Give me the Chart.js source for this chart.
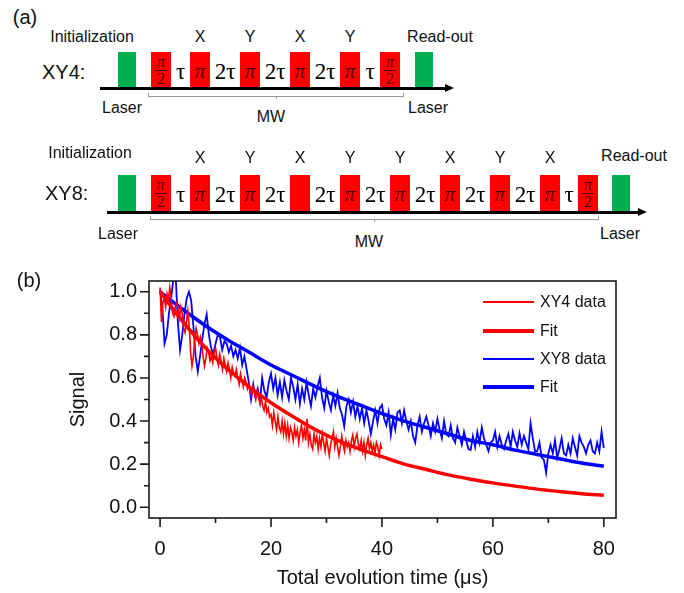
<!DOCTYPE html>
<html>
<head>
<meta charset="utf-8">
<script src="https://cdn.jsdelivr.net/npm/chart.js@4.4.1/dist/chart.umd.min.js"></script>
<style>
  body { margin: 0; width: 684px; height: 593px; position: relative; overflow: hidden; background: #fff;
         font-family: "Liberation Sans", Arial, sans-serif; color: #111; }
  .lbl { position: absolute; transform: translate(-50%, -50%); line-height: 1; white-space: nowrap; font-size: 16px; }
  .blk { position: absolute; }
  .pi { font-family: "Liberation Serif", "DejaVu Serif", serif; font-style: italic; color: #500000; }
  .gap { font-family: "Liberation Serif", "DejaVu Serif", serif; font-size: 23px; color: #000; }
  #chart { position: absolute; left: 0; top: 255px; }
</style>
</head>
<body>
<canvas id="chart" width="684" height="338"></canvas>
<script>
// ---- data for panel (b) ----
const xy4Step = 0.25;   // µs between XY4 samples (0..40)
const xy4Signal = [
  1.02, 0.86, 0.95, 0.97, 0.93, 0.99, 0.96, 1.02,
  0.97, 0.90, 0.885, 0.93, 0.95, 0.92, 0.88, 0.93,
  0.90, 0.83, 0.81, 0.86, 0.91, 0.84, 0.72, 0.655,
  0.70, 0.78, 0.83, 0.80, 0.76, 0.79, 0.76, 0.70,
  0.655, 0.69, 0.74, 0.72, 0.68, 0.70, 0.67, 0.72,
  0.74, 0.69, 0.66, 0.71, 0.68, 0.64, 0.69, 0.66,
  0.63, 0.67, 0.64, 0.60, 0.65, 0.62, 0.61, 0.64,
  0.60, 0.57, 0.62, 0.59, 0.56, 0.60, 0.58, 0.55,
  0.57, 0.54, 0.52, 0.56, 0.53, 0.50, 0.54, 0.51,
  0.48, 0.51, 0.47, 0.45, 0.49, 0.44, 0.46, 0.42,
  0.43, 0.38, 0.44, 0.40, 0.36, 0.42, 0.37, 0.35,
  0.40, 0.34, 0.39, 0.33, 0.38, 0.32, 0.37, 0.35,
  0.31, 0.37, 0.33, 0.36, 0.30, 0.35, 0.38, 0.32,
  0.36, 0.31, 0.41, 0.30, 0.34, 0.29, 0.27, 0.34,
  0.30, 0.33, 0.27, 0.32, 0.28, 0.34, 0.30, 0.26,
  0.32, 0.28, 0.24, 0.29, 0.32, 0.35, 0.28, 0.32,
  0.28, 0.24, 0.28, 0.33, 0.29, 0.26, 0.31, 0.28,
  0.30, 0.26, 0.31, 0.335, 0.28, 0.32, 0.34, 0.29,
  0.27, 0.31, 0.26, 0.30, 0.24, 0.29, 0.32, 0.27,
  0.30, 0.26, 0.29, 0.25, 0.30, 0.28, 0.24, 0.29,
  0.27
];

const xy8Step = 0.4;    // µs between XY8 samples (0..80)
const xy8Signal = [
  1.01, 0.93, 0.76, 0.80, 0.90, 0.97, 1.06, 1.08, 0.86, 0.73,
  0.80, 0.90, 0.97, 1.00, 0.96, 0.84, 0.70, 0.63, 0.70, 0.78,
  0.85, 0.895, 0.80, 0.74, 0.71, 0.76, 0.80, 0.79, 0.73, 0.77,
  0.76, 0.72, 0.75, 0.70, 0.73, 0.69, 0.74, 0.66, 0.70, 0.64,
  0.58, 0.50, 0.57, 0.51, 0.55, 0.49, 0.60, 0.54, 0.51, 0.58,
  0.62, 0.55, 0.60, 0.52, 0.58, 0.51, 0.59, 0.54, 0.50, 0.60,
  0.56, 0.50, 0.57, 0.48, 0.55, 0.50, 0.58, 0.52, 0.47, 0.55,
  0.51, 0.56, 0.60, 0.51, 0.46, 0.54, 0.49, 0.45, 0.52, 0.47,
  0.53, 0.46, 0.43, 0.375, 0.47, 0.50, 0.44, 0.49, 0.42, 0.47,
  0.41, 0.46, 0.39, 0.45, 0.40, 0.34, 0.40, 0.45, 0.39, 0.46,
  0.475, 0.41, 0.38, 0.44, 0.336, 0.41, 0.36, 0.44, 0.45, 0.39,
  0.45, 0.40, 0.36, 0.40, 0.33, 0.30, 0.38, 0.42, 0.35, 0.39,
  0.42, 0.38, 0.33, 0.39, 0.35, 0.41, 0.36, 0.32, 0.40, 0.34,
  0.33, 0.38, 0.32, 0.30, 0.37, 0.33, 0.29, 0.35, 0.31, 0.27,
  0.266, 0.33, 0.28, 0.35, 0.30, 0.37, 0.32, 0.29, 0.26, 0.30,
  0.31, 0.35, 0.28, 0.33, 0.29, 0.27, 0.31, 0.34, 0.28, 0.35,
  0.31, 0.28, 0.344, 0.29, 0.33, 0.30, 0.27, 0.39, 0.32, 0.26,
  0.26, 0.30, 0.23, 0.22, 0.16, 0.25, 0.29, 0.25, 0.31, 0.23,
  0.27, 0.32, 0.25, 0.24, 0.29, 0.25, 0.32, 0.28, 0.24, 0.33,
  0.30, 0.28, 0.25, 0.29, 0.31, 0.26, 0.25, 0.30, 0.26, 0.35,
  0.275
];

// fitted curves, every 4 µs
const fitTime = [0, 4, 8, 12, 16, 20, 24, 28, 32, 36, 40, 44, 48, 52, 56, 60, 64, 68, 72, 76, 80];
const xy4Fit = [1.0, 0.865, 0.745, 0.645, 0.56, 0.485, 0.42, 0.36, 0.31, 0.27, 0.235,
                0.20, 0.175, 0.15, 0.13, 0.113, 0.098, 0.084, 0.073, 0.063, 0.055];
const xy8Fit = [1.0, 0.92, 0.846, 0.78, 0.72, 0.66, 0.61, 0.56, 0.515, 0.475, 0.435,
                0.40, 0.37, 0.34, 0.31, 0.29, 0.265, 0.245, 0.225, 0.205, 0.19];

const xTickValues = [0, 20, 40, 60, 80];
const xMinorTicks = [10, 30, 50, 70];
const yTickValues = [0, 0.2, 0.4, 0.6, 0.8, 1.0];
const yMinorTicks = [0.1, 0.3, 0.5, 0.7, 0.9];

// ---- panel (a): pulse sequences ----
const xy4Axes = ['X', 'Y', 'X', 'Y'];
const xy8Axes = ['X', 'Y', 'X', 'Y', 'Y', 'X', 'Y', 'X'];

function label(text, x, y, css, cls) {
  const el = document.createElement('div');
  el.className = 'lbl' + (cls ? ' ' + cls : '');
  el.textContent = text;
  el.style.left = x + 'px';
  el.style.top = y + 'px';
  if (css) Object.assign(el.style, css);
  document.body.appendChild(el);
  return el;
}

function block(x, y, w, h, css) {
  const el = document.createElement('div');
  el.className = 'blk';
  Object.assign(el.style, { left: x + 'px', top: y + 'px', width: w + 'px', height: h + 'px' }, css);
  document.body.appendChild(el);
  return el;
}

function halfPulse(x, top, h) {
  const b = block(x, top, 20, h, { background: '#ff0000' });
  const cx = x + 10, cy = top + h / 2;
  label('π', cx, cy - 8, { fontSize: '16px' }, 'pi');
  block(x + 4, cy, 12, 1, { background: '#500000' });
  label('2', cx, cy + 9, { fontSize: '16px', fontStyle: 'normal' }, 'pi');
  return b;
}

function drawRow(r) {
  label(r.name, r.nameX, r.nameY, { fontSize: '20px', transform: 'translate(0,-50%)' });
  label('Initialization', r.initX, r.initY);
  label('Read-out', r.readX, r.readY);
  label('Laser', r.laserL, r.laserY);
  label('Laser', r.laserR, r.laserY);
  label('MW', r.mwX, r.mwY);

  r.greens.forEach(x => block(x, r.top, 18, r.h, { background: '#00b050' }));
  r.halves.forEach(x => halfPulse(x, r.top, r.h));
  r.pis.forEach((x, i) => {
    block(x, r.top, 20, r.h, { background: '#ff0000' });
    if (i !== r.blank) label('π', x + 10, r.top + r.h / 2 + 1, { fontSize: '21px' }, 'pi');
    label(r.axes[i], x + 10, r.axisLabelY);
  });
  r.gaps.forEach(g => label(g[1], g[0], r.top + r.h / 2 + 1, null, 'gap'));

  // time axis with arrow
  block(r.axisFrom, r.axisY - 1, r.axisTo - r.axisFrom, 2.5, { background: '#000' });
  block(r.axisTo, r.axisY - 4.5, 0, 0, {
    borderTop: '4.5px solid transparent', borderBottom: '4.5px solid transparent', borderLeft: '9px solid #000'
  });
  // MW bracket
  const gray = { background: '#9a9a9a' };
  block(r.brFrom, r.brY, r.brTo - r.brFrom, 1, gray);
  block(r.brFrom, r.brY - 3, 1, 3, gray);
  block(r.brTo - 1, r.brY - 3, 1, 3, gray);
  block(r.brMid, r.brY, 1, 3, gray);
}

label('(a)', 25, 17, { fontSize: '20px' });
label('(b)', 29, 280, { fontSize: '20px' });

drawRow({
  name: 'XY4:', nameX: 42, nameY: 72, top: 52, h: 35, axisY: 88, axisFrom: 100, axisTo: 445,
  initX: 92, initY: 37, readX: 440, readY: 37, laserL: 122, laserR: 428, laserY: 108, mwX: 271, mwY: 117,
  greens: [118, 415], halves: [151, 380], pis: [190, 240, 290, 340], blank: -1,
  axes: xy4Axes, axisLabelY: 37,
  gaps: [[180.5, 'τ'], [225, '2τ'], [275, '2τ'], [325, '2τ'], [370, 'τ']],
  brY: 96, brFrom: 148, brTo: 404, brMid: 276
});

drawRow({
  name: 'XY8:', nameX: 45, nameY: 193, top: 175, h: 36, axisY: 212, axisFrom: 107, axisTo: 638,
  initX: 90, initY: 153, readX: 634, readY: 156, laserL: 118, laserR: 620, laserY: 234, mwX: 369, mwY: 242,
  greens: [118, 612], halves: [151, 578], pis: [190, 240, 290, 340, 390, 440, 490, 540], blank: 2,
  axes: xy8Axes, axisLabelY: 158,
  gaps: [[180.5, 'τ'], [225, '2τ'], [275, '2τ'], [325, '2τ'], [375, '2τ'], [425, '2τ'],
         [475, '2τ'], [525, '2τ'], [569, 'τ']],
  brY: 219, brFrom: 150, brTo: 599, brMid: 374
});

// ---- panel (b): chart ----
Chart.defaults.font.family = '"Liberation Sans", Arial, sans-serif';
Chart.defaults.color = '#111';

const frameAndTicks = {
  id: 'frameAndTicks',
  afterDatasetsDraw(chart) {
    const { ctx, chartArea: a, scales: { x, y } } = chart;
    ctx.save();
    ctx.strokeStyle = '#1a1a1a';
    ctx.lineWidth = 1.6;
    ctx.strokeRect(a.left, a.top, a.right - a.left, a.bottom - a.top);
    ctx.beginPath();
    const xMark = (v, len) => { const p = x.getPixelForValue(v); ctx.moveTo(p, a.bottom); ctx.lineTo(p, a.bottom + len); };
    const yMark = (v, len) => { const p = y.getPixelForValue(v); ctx.moveTo(a.left, p); ctx.lineTo(a.left - len, p); };
    xTickValues.forEach(v => xMark(v, 9));
    xMinorTicks.forEach(v => xMark(v, 5));
    yTickValues.forEach(v => yMark(v, 9));
    yMinorTicks.forEach(v => yMark(v, 5));
    ctx.stroke();
    ctx.restore();
  }
};

const chart = new Chart(document.getElementById('chart'), {
  type: 'line',
  data: {
    datasets: [
      { label: 'XY4 data', data: xy4Signal.map((v, i) => ({ x: i * xy4Step, y: v })),
        borderColor: '#ff0000', borderWidth: 1.6, pointRadius: 0 },
      { label: 'Fit', data: fitTime.map((t, i) => ({ x: t, y: xy4Fit[i] })),
        borderColor: '#ff0000', borderWidth: 3.5, pointRadius: 0, cubicInterpolationMode: 'monotone' },
      { label: 'XY8 data', data: xy8Signal.map((v, i) => ({ x: i * xy8Step, y: v })),
        borderColor: '#0000ff', borderWidth: 1.8, pointRadius: 0 },
      { label: 'Fit', data: fitTime.map((t, i) => ({ x: t, y: xy8Fit[i] })),
        borderColor: '#0000ff', borderWidth: 3.5, pointRadius: 0, cubicInterpolationMode: 'monotone' }
    ]
  },
  options: {
    responsive: false,
    animation: false,
    layout: { padding: { left: 0, top: 26, right: 68, bottom: 0 } },
    plugins: { legend: { display: false }, tooltip: { enabled: false } },
    scales: {
      x: {
        type: 'linear', min: -2, max: 82.2,
        grid: { display: false, drawTicks: false },
        border: { display: false },
        afterBuildTicks: s => { s.ticks = xTickValues.map(v => ({ value: v })); },
        afterFit: s => { s.height = 75; },
        ticks: { padding: 19, font: { size: 20 }, maxRotation: 0 },
        title: { display: true, text: 'Total evolution time (μs)', font: { size: 20 }, padding: { top: 0, bottom: 3 } }
      },
      y: {
        min: -0.05, max: 1.05,
        grid: { display: false, drawTicks: false },
        border: { display: false },
        afterBuildTicks: s => { s.ticks = yTickValues.map(v => ({ value: v })); },
        afterFit: s => { s.width = 149; },
        ticks: { padding: 12, font: { size: 20 }, callback: v => v.toFixed(1) },
        title: { display: true, text: 'Signal', font: { size: 20 }, padding: { top: 66, bottom: 0 } }
      }
    }
  },
  plugins: [frameAndTicks]
});

// legend inside the plot, top right
const legendY = [302, 331, 359, 387];
chart.data.datasets.forEach((ds, i) => {
  const lw = ds.borderWidth < 2 ? 1.3 : 3.5;
  block(483, legendY[i] - lw / 2, 51, lw, { background: ds.borderColor });
  label(ds.label, 540, legendY[i], { transform: 'translate(0,-50%)' });
});
</script>
</body>
</html>
